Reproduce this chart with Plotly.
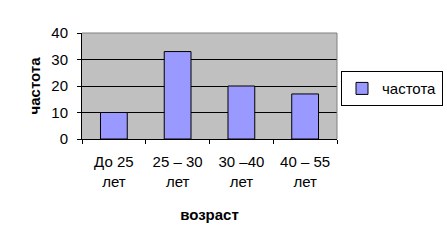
import plotly.graph_objects as go

categories = ["До 25<br>лет", "25 – 30<br>лет", "30 –40<br>лет", "40 – 55<br>лет"]
values = [10, 33, 20, 17]
series_name = "частота"
x_title = "возраст"
y_title = "частота"

FONT = "Arial, Liberation Sans, sans-serif"

fig = go.Figure()
fig.add_trace(go.Bar(
    x=categories, y=values, name=series_name,
    marker=dict(color="#9999FF", line=dict(color="black", width=1)),
    showlegend=True,
))

fig.update_layout(
    width=447, height=249,
    margin=dict(l=82, r=110, t=33, b=110, autoexpand=False),
    paper_bgcolor="white",
    plot_bgcolor="#C0C0C0",
    font=dict(family=FONT, size=15, color="black"),
    bargap=0.58,
    showlegend=True,
    legend=dict(
        x=1.0157, y=0.64, xanchor="left", yanchor="top",
        bordercolor="black", borderwidth=1, bgcolor="white",
        font=dict(size=15),
        itemwidth=30,
    ),
    xaxis=dict(
        type="category",
        showline=True, linecolor="black", linewidth=1,
        ticks="outside", tickson="boundaries", ticklen=4, tickcolor="black",
        showgrid=False,
        ticklabelstandoff=9,
        title=dict(text="<b>" + x_title + "</b>", font=dict(size=15), standoff=20),
        automargin=False,
    ),
    yaxis=dict(
        range=[0, 40], dtick=10,
        showline=True, linecolor="black", linewidth=1,
        ticks="outside", ticklen=4, tickcolor="black",
        showgrid=True, gridcolor="black", gridwidth=1,
        zeroline=False,
        ticklabelstandoff=6,
        title=dict(text="<b>" + y_title + "</b>", font=dict(size=15), standoff=7),
        automargin=False,
    ),
    shapes=[
        dict(type="line", xref="paper", yref="paper", x0=0, x1=1, y0=1, y1=1,
             line=dict(color="#808080", width=1), layer="above"),
        dict(type="line", xref="paper", yref="paper", x0=1, x1=1, y0=0, y1=1,
             line=dict(color="#808080", width=1), layer="above"),
    ],
)

fig.write_html("out.html")
